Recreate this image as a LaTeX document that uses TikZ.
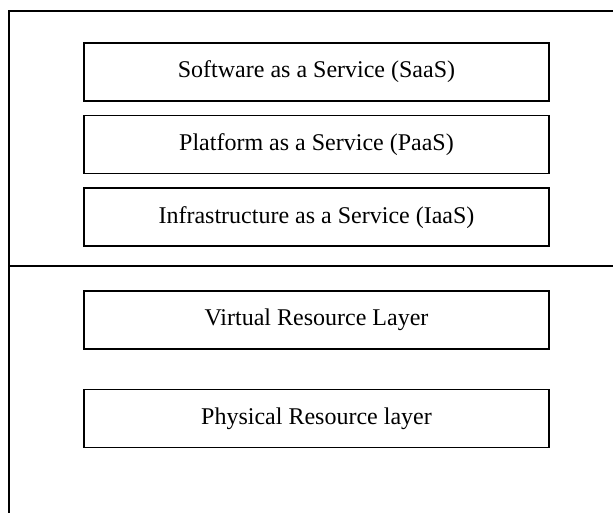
\documentclass[tikz,border=0pt]{standalone}
\usepackage{fontspec}
\setmainfont{Liberation Serif}
\usetikzlibrary{positioning}
\tikzstyle{layer} = [rectangle, draw=black, line width=1.6pt, minimum width=465pt, minimum height=58pt, inner sep=0pt, font=\fontsize{24}{28}\selectfont]
\tikzstyle{frame} = [line width=1.8pt]

\begin{document}
\begin{tikzpicture}[x=1pt, y=-1pt, node distance=13pt]
        \useasboundingbox (0,0) rectangle (613,513);
        % frame
        \coordinate (tl) at (9,11);
        \coordinate (tr) at (613,11);
        \coordinate (bl) at (9,513);
        \coordinate (ml) at (9,266);
        \coordinate (mr) at (613,266);
        \draw [frame] (tr) -- (tl) -- (bl);
        \draw [frame] (ml) -- (mr);
        % service layers
        \node (saas) [layer] at (316.5,72) {Software as a Service (SaaS)};
        \node (paas) [layer, below=of saas] {Platform as a Service (PaaS)};
        \node (iaas) [layer, below=of paas] {Infrastructure as a Service (IaaS)};
        % resource layers
        \node (virt) [layer] at (316.5,320) {Virtual Resource Layer};
        \node (phys) [layer, below=39pt of virt] {Physical Resource layer};
\end{tikzpicture}
\end{document}
